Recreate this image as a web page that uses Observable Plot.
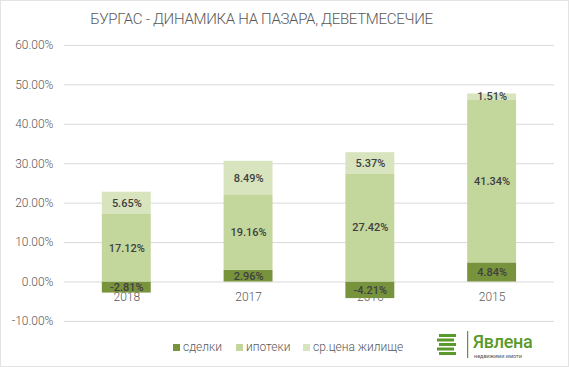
<!DOCTYPE html>
<html><head><meta charset="utf-8">
<script src="https://cdn.jsdelivr.net/npm/d3@7"></script>
<script src="https://cdn.jsdelivr.net/npm/@observablehq/plot@0.6"></script>
<style>
body{margin:0;background:#fff;}
#wrap{position:relative;width:567px;height:365px;border:1px solid #e3e3e3;overflow:hidden;font-family:Roboto,sans-serif;}
#chart{position:absolute;left:-1px;top:-1px;}
#title{position:absolute;left:0;width:521px;top:9px;text-align:center;font-size:15px;font-weight:300;color:#595959;letter-spacing:-0.3px;white-space:nowrap;}
.leg{position:absolute;top:339px;font-size:12px;font-weight:300;color:#595959;white-space:nowrap;}
.leg i{display:inline-block;width:7px;height:7px;margin-right:3px;vertical-align:0px;}
#logo{position:absolute;left:430px;top:326px;}
</style></head>
<body>
<div id="wrap">
<div id="chart"></div>
<div id="title">БУРГАС - ДИНАМИКА НА ПАЗАРА, ДЕВЕТМЕСЕЧИЕ</div>
<div class="leg" style="left:172px"><i style="background:#77933c"></i>сделки</div>
<div class="leg" style="left:235px"><i style="background:#c3d69b"></i>ипотеки</div>
<div class="leg" style="left:302px"><i style="background:#d7e4bd"></i>ср.цена жилище</div>
<svg id="logo" width="120" height="38">
  <g fill="#5a9a2a">
    <rect x="8" y="7" width="17" height="3"/>
    <rect x="6" y="11.5" width="17" height="3"/>
    <rect x="8" y="16" width="17" height="3"/>
    <rect x="6" y="20.5" width="17" height="3"/>
    <rect x="8" y="25" width="17" height="3"/>
    <rect x="36" y="4" width="1.2" height="27"/>
  </g>
  <text x="42" y="21" font-family="Roboto,sans-serif" font-size="18" font-weight="500" fill="#5a9a2a" letter-spacing="-0.3">Явлена</text>
  <text x="43" y="30.5" font-family="Roboto,sans-serif" font-size="5.5" fill="#555">недвижими имоти</text>
</svg>
</div>
<script>
const years = ["2018", "2017", "2016", "2015"];
const series = ["сделки", "ипотеки", "ср.цена жилище"];
const sdelki = [-2.81, 2.96, -4.21, 4.84];
const ipoteki = [17.12, 19.16, 27.42, 41.34];
const srCena = [5.65, 8.49, 5.37, 1.51];
const yTicks = [-10, 0, 10, 20, 30, 40, 50, 60];
const colors = ["#77933c", "#c3d69b", "#d7e4bd"];

const cols = [sdelki, ipoteki, srCena];
const data = [];
years.forEach((yr, i) => {
  series.forEach((s, j) => data.push({year: yr, series: s, value: cols[j][i]}));
});

const chart = Plot.plot({
  width: 569,
  height: 367,
  marginTop: 45,
  marginBottom: 45.5,
  marginLeft: 64,
  marginRight: 14,
  style: {fontFamily: "Roboto, sans-serif", background: "transparent"},
  x: {domain: years, paddingInner: 0.6, paddingOuter: 0.3, axis: null},
  y: {domain: [-10, 60], axis: null},
  color: {domain: series, range: colors},
  marks: [
    Plot.ruleY(yTicks, {stroke: "#d9d9d9", strokeWidth: 1}),
    Plot.text(yTicks, {y: d => d, frameAnchor: "left", dx: -11, textAnchor: "end",
      text: d => d.toFixed(2) + "%", fill: "#595959", fontSize: 12, fontWeight: 300}),
    Plot.text(years, {x: d => d, y: () => 0, dy: 15, text: d => d, fill: "#595959", fontSize: 12, fontWeight: 300}),
    Plot.barY(data, Plot.stackY({x: "year", y: "value", z: "series", fill: "series", order: series})),
    Plot.text(data, Plot.stackY({x: "year", y: "value", z: "series", order: series,
      text: d => d.value.toFixed(2) + "%", fill: "#404040", fontSize: 11, fontWeight: 500}))
  ]
});
document.getElementById("chart").appendChild(chart);
</script>
</body></html>
